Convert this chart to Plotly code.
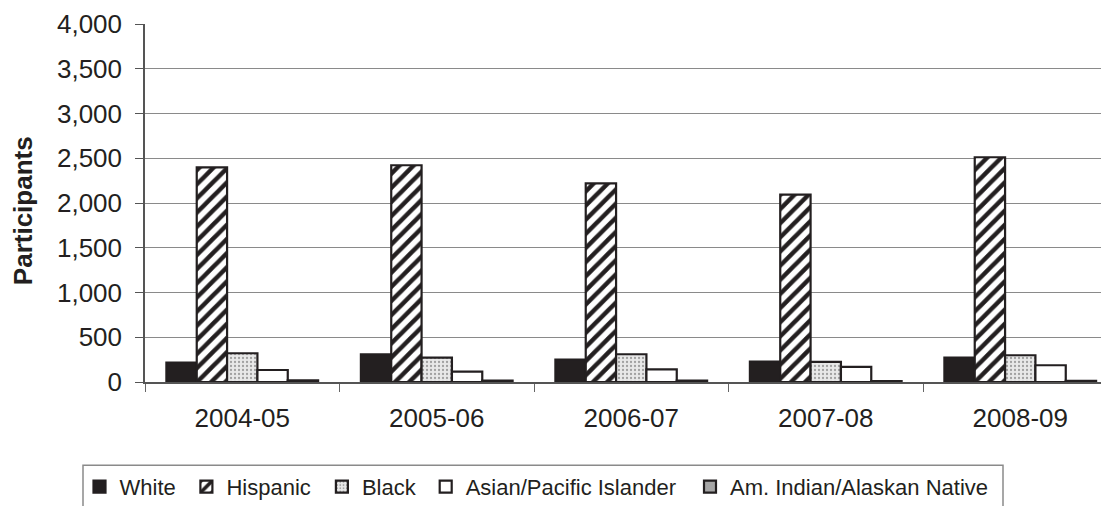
import plotly.graph_objects as go

years = ["2004-05", "2005-06", "2006-07", "2007-08", "2008-09"]
white = [217, 310, 251, 228, 274]
hispanic = [2398, 2422, 2220, 2093, 2511]
black = [321, 273, 310, 224, 299]
asian = [134, 116, 142, 168, 187]
amind = [18, 17, 15, 10, 14]
series_names = ["White", "Hispanic", "Black", "Asian/Pacific Islander", "Am. Indian/Alaskan Native"]
y_ticks = [0, 500, 1000, 1500, 2000, 2500, 3000, 3500, 4000]

# page offset (body margin) compensation
OFF = 8
W, H = 1109, 506
ML = 145 - OFF
MT = 24 - OFF
MR = 0
MB = H - (381.7 - OFF)
PW, PH = W - ML - MR, H - MT - MB
CAT_W = 194.5

def px_x(page_px):
    return (page_px - OFF - ML) / PW

def px_y(page_py):
    return (H - MB - (page_py - OFF)) / PH

INK = "#231f20"
outline = dict(color=INK, width=2.2)

markers = [
    dict(color=INK, line=outline),
    dict(color="white", line=outline,
         pattern=dict(shape="/", fgcolor=INK, bgcolor="white", size=10, solidity=0.45, fillmode="replace")),
    dict(color="#e4e4e4", line=outline,
         pattern=dict(shape=".", fgcolor="#a0a0a0", bgcolor="#e8e8e8", size=4, solidity=0.25, fillmode="replace")),
    dict(color="white", line=outline),
    dict(color="#a6a6a6", line=outline),
]
values = [white, hispanic, black, asian, amind]
legend_ids = ["legend", "legend2", "legend3", "legend4", "legend5"]
text_starts = [119.5, 226.4, 361.9, 465.7, 730]

fig = go.Figure()
for name, vals, mk, lid in zip(series_names, values, markers, legend_ids):
    fig.add_trace(go.Bar(x=years, y=vals, name=name, marker=mk, legend=lid))

font_family = "Liberation Sans, Arial, sans-serif"
legend_y = px_y(486.5)
layout_legends = {}
for lid, tx in zip(legend_ids, text_starts):
    layout_legends[lid] = dict(
        x=px_x(tx - 40), y=legend_y, xanchor="left", yanchor="middle",
        xref="paper", yref="paper",
        bgcolor="rgba(0,0,0,0)", borderwidth=0,
        font=dict(family=font_family, size=22, color=INK),
        orientation="h",
    )

fig.update_layout(
    width=W, height=H,
    margin=dict(l=ML, r=MR, t=MT, b=MB),
    paper_bgcolor="white", plot_bgcolor="white",
    barmode="group", bargap=0.22, bargroupgap=0,
    font=dict(family=font_family, color=INK),
    showlegend=True,
    **layout_legends,
)

fig.update_xaxes(
    type="category",
    range=[-0.5, -0.5 + PW / CAT_W],
    showline=True, linecolor="#555555", linewidth=1.5,
    ticks="outside", tickson="boundaries", ticklen=8, tickcolor="#666666", tickwidth=1.3,
    tickfont=dict(size=26, family=font_family, color=INK),
    ticklabelstandoff=12,
    showgrid=False, zeroline=False, fixedrange=True,
)
fig.update_yaxes(
    range=[0, 4000],
    tickvals=y_ticks, ticktext=[f"{v:,}" for v in y_ticks],
    showline=True, linecolor="#555555", linewidth=1.5,
    ticks="outside", ticklen=8, tickcolor="#555555", tickwidth=1.3,
    tickfont=dict(size=26, family=font_family, color=INK),
    ticklabelstandoff=8,
    showgrid=True, gridcolor="#8a8a8a", gridwidth=1.3,
    zeroline=False,
)

# y-axis title
fig.add_annotation(text="<b>Participants</b>", xref="paper", yref="paper",
                   x=px_x(23), y=px_y(210), xanchor="center", yanchor="middle",
                   textangle=-90, showarrow=False,
                   font=dict(size=26, family=font_family, color=INK))

# legend frame
fig.add_shape(type="rect", xref="paper", yref="paper",
              x0=px_x(83), x1=px_x(1003), y0=px_y(530), y1=px_y(465),
              line=dict(color="#8a8a8a", width=1.5), fillcolor="rgba(0,0,0,0)", layer="below")

fig.write_html("out.html")
